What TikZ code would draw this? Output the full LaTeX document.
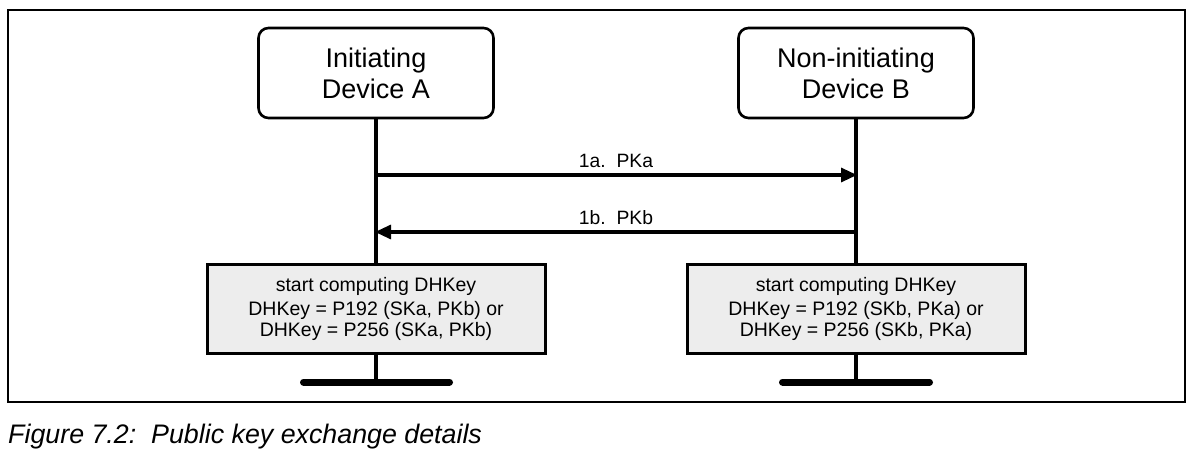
\documentclass[tikz,border=0pt]{standalone}
\usepackage{fontspec}
\setmainfont{Liberation Sans}
\usetikzlibrary{arrows.meta}
\definecolor{boxgray}{HTML}{EDEDED}
\tikzset{
  devbox/.style={draw, line width=2.6pt, rounded corners=10pt, minimum width=235pt, minimum height=90pt, align=center, inner sep=0pt, font=\fontsize{27}{31}\selectfont},
  compbox/.style={draw, line width=3pt, fill=boxgray, minimum width=338pt, minimum height=88pt, align=center, inner sep=0pt, font=\fontsize{19.5}{21.5}\selectfont},
  life/.style={line width=3.2pt},
  msg/.style={line width=3.2pt, -{Triangle[length=16pt,width=14pt]}, shorten >=-1pt},
  msglabel/.style={font=\fontsize{19.3}{22}\selectfont, anchor=base, inner sep=0pt},
  endbar/.style={line width=7pt, line cap=round},
  frame/.style={line width=1.3pt}
}
\begin{document}
\begin{tikzpicture}[x=1pt,y=-1pt]
\useasboundingbox (0,0) rectangle (1194,454);
\draw[frame] (8,10) rectangle (1185,402);
\node[devbox] (A) at (376,73) {Initiating\\Device A};
\node[devbox] (B) at (856,73) {Non-initiating\\Device B};
\node[compbox] (CA) at (376,309) {\raisebox{-2pt}{start computing DHKey}\\[4pt]DHKey = P192 (SKa, PKb) or\\DHKey = P256 (SKa, PKb)};
\node[compbox] (CB) at (856,309) {\raisebox{-2pt}{start computing DHKey}\\[4pt]DHKey = P192 (SKb, PKa) or\\DHKey = P256 (SKb, PKa)};
\coordinate (a1) at (376,175);
\coordinate (b1) at (856,175);
\coordinate (a2) at (376,232);
\coordinate (b2) at (856,232);
\coordinate (endA) at (376,382);
\coordinate (endB) at (856,382);
\coordinate (barAl) at (303.5,382);
\coordinate (barAr) at (449.5,382);
\coordinate (barBl) at (782.5,382);
\coordinate (barBr) at (929.5,382);
\draw[life] (A.south) -- (CA.north);
\draw[life] (B.south) -- (CB.north);
\draw[life] (CA.south) -- (endA);
\draw[life] (CB.south) -- (endB);
\draw[endbar] (barAl) -- (barAr);
\draw[endbar] (barBl) -- (barBr);
\draw[msg] (a1) -- (b1);
\draw[msg] (b2) -- (a2);
\node[msglabel] (l1) at (616,168) {1a.\ \ PKa};
\node[msglabel] (l2) at (616,225) {1b.\ \ PKb};
\node[anchor=base west, inner sep=0pt, font=\fontsize{26.8}{30}\selectfont\itshape] (cap) at (8,443) {Figure 7.2:\ \ Public key exchange details};
\end{tikzpicture}
\end{document}
